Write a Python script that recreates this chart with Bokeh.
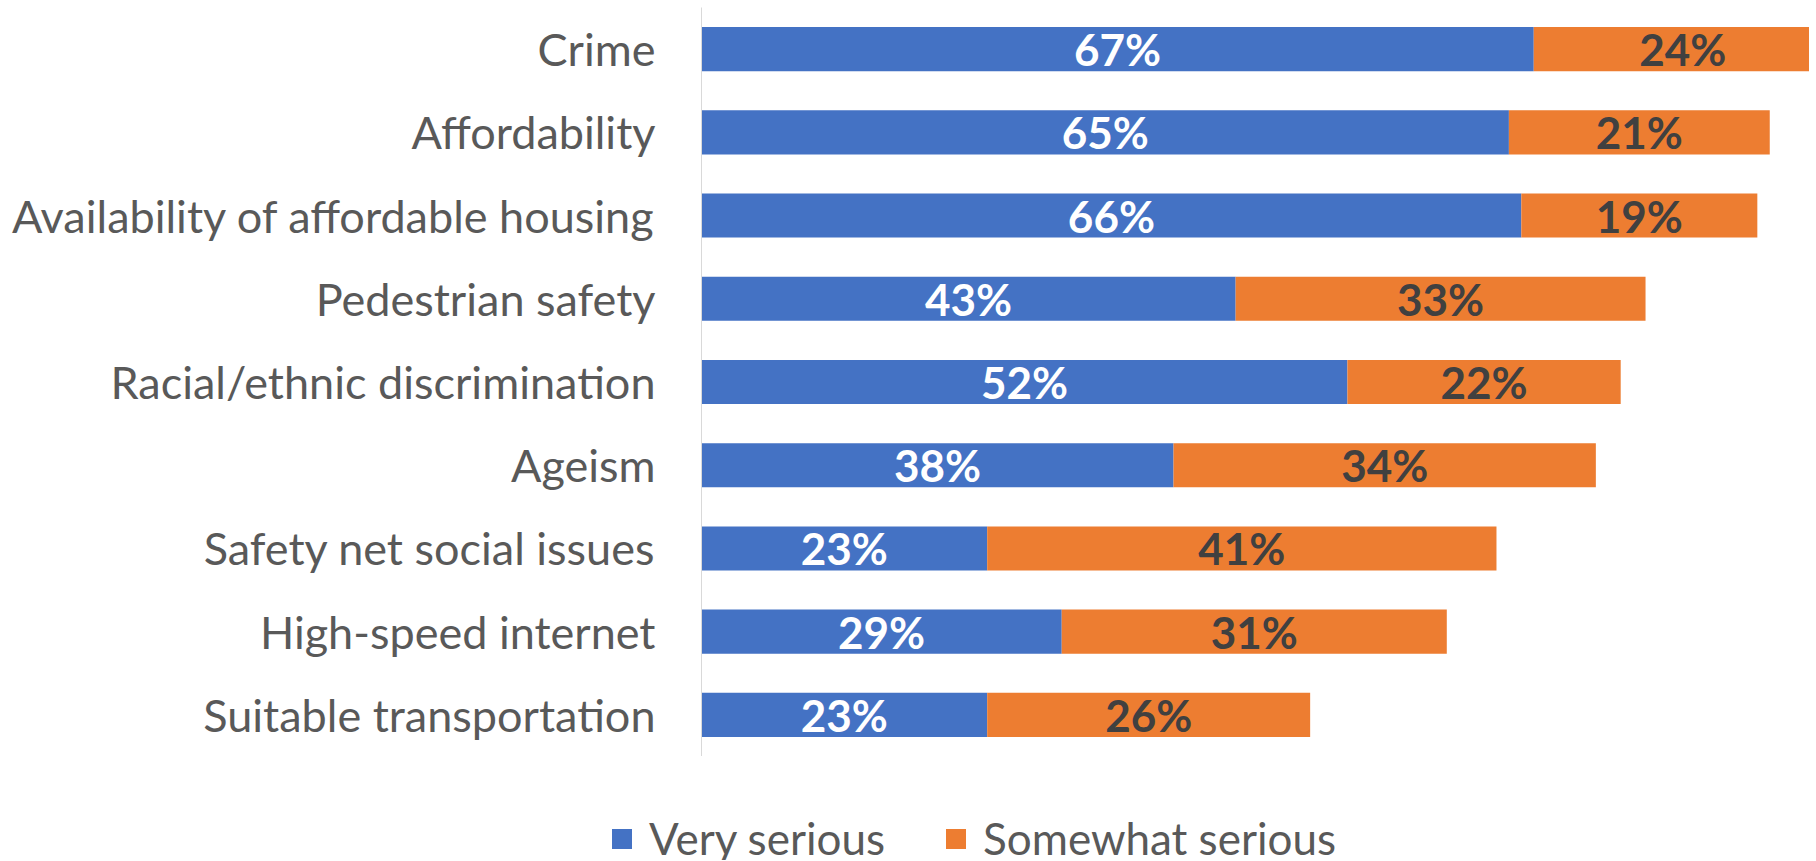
from bokeh.plotting import figure
from bokeh.models import ColumnDataSource, FactorRange, Range1d, Legend, LegendItem
from bokeh.core.properties import value
from bokeh.embed import file_html
from bokeh.resources import INLINE

categories = ["Crime", "Affordability", "Availability of affordable housing",
              "Pedestrian safety", "Racial/ethnic discrimination", "Ageism",
              "Safety net social issues", "High-speed internet", "Suitable transportation"]
very_serious = [67, 65, 66, 43, 52, 38, 23, 29, 23]
somewhat_serious = [24, 21, 19, 33, 22, 34, 41, 31, 26]
series_names = ["Very serious", "Somewhat serious"]

BLUE = "#4472C4"
ORANGE = "#ED7D31"
FONT = "Lato"
W = 1809

src = ColumnDataSource(dict(
    cat=categories,
    very=very_serious,
    some=somewhat_serious,
    total=[a + b for a, b in zip(very_serious, somewhat_serious)],
    very_mid=[a / 2 for a in very_serious],
    some_mid=[a + b / 2 for a, b in zip(very_serious, somewhat_serious)],
    very_lbl=[f"{a}%" for a in very_serious],
    some_lbl=[f"{b}%" for b in somewhat_serious],
))

p = figure(width=W, height=756, output_backend="svg", toolbar_location=None,
           y_range=FactorRange(factors=list(reversed(categories)), range_padding=0),
           x_range=Range1d(0, 89.2),
           min_border_left=701, min_border_right=0, min_border_top=7, min_border_bottom=0)

r1 = p.hbar(y="cat", left=0, right="very", height=0.53, source=src, color=BLUE, line_color=None)
r2 = p.hbar(y="cat", left="very", right="total", height=0.53, source=src, color=ORANGE, line_color=None)

p.text(x="very_mid", y="cat", text="very_lbl", source=src, text_align="center",
       text_baseline="middle", text_color="white", text_font=value(FONT),
       text_font_style="bold", text_font_size="44px")
p.text(x="some_mid", y="cat", text="some_lbl", source=src, text_align="center",
       text_baseline="middle", text_color="#404040", text_font=value(FONT),
       text_font_style="bold", text_font_size="44px")

p.xaxis.visible = False
p.xgrid.visible = False
p.ygrid.visible = False
p.outline_line_color = None

ax = p.yaxis[0]
ax.axis_line_color = "#D9D9D9"
ax.axis_line_width = 1
ax.major_tick_line_color = None
ax.minor_tick_line_color = None
ax.major_tick_out = 0
ax.major_tick_in = 0
ax.major_label_standoff = 46
ax.major_label_text_font = FONT
ax.major_label_text_font_size = "45px"
ax.major_label_text_color = "#595959"

# legend strip below the chart (separate root so its frame starts at the left edge)
LH = 104
lg = figure(width=W, height=LH, output_backend="svg", toolbar_location=None,
            x_range=Range1d(0, W), y_range=Range1d(0, LH),
            min_border_left=0, min_border_right=0, min_border_top=0, min_border_bottom=0)
lg.xaxis.visible = False
lg.yaxis.visible = False
lg.xgrid.visible = False
lg.ygrid.visible = False
lg.outline_line_color = None
# swatch renderers kept outside the visible range; only their legend glyphs show
d1 = lg.hbar(y=[-1000], left=[0], right=[1], height=1, color=BLUE, line_color=None)
d2 = lg.hbar(y=[-1000], left=[0], right=[1], height=1, color=ORANGE, line_color=None)

legend = Legend(items=[LegendItem(label=series_names[0], renderers=[d1]),
                       LegendItem(label=series_names[1], renderers=[d2])],
                orientation="horizontal", location=(609, -4),
                glyph_width=25, glyph_height=25, label_standoff=15, spacing=58,
                padding=0, margin=0, border_line_color=None, background_fill_alpha=0,
                label_text_font=FONT, label_text_font_size="44px",
                label_text_color="#595959")
lg.add_layout(legend, "center")

open("out.html", "w").write(file_html([p, lg], INLINE))
